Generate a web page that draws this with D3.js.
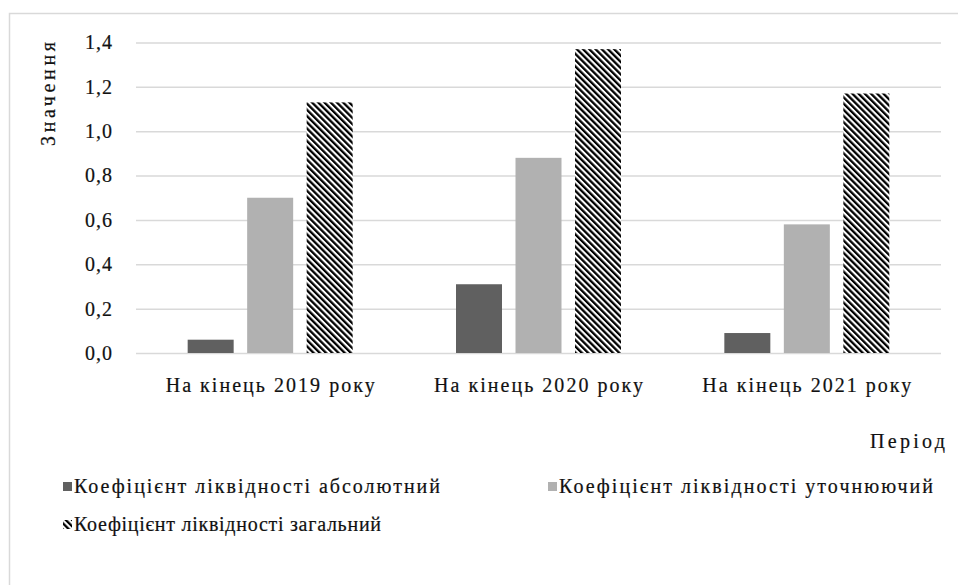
<!DOCTYPE html>
<html><head><meta charset="utf-8">
<script src="https://cdn.jsdelivr.net/npm/d3@7"></script>
<style>html,body{margin:0;padding:0;background:#fff;}</style>
</head>
<body><svg id="c" width="958" height="585" font-family="Liberation Serif"></svg>
<script>
const categories = ["На кінець 2019 року", "На кінець 2020 року", "На кінець 2021 року"];
const seriesNames = ["Коефіцієнт ліквідності абсолютний", "Коефіцієнт ліквідності уточнюючий", "Коефіцієнт ліквідності загальний"];
const absoluteValues = [0.06, 0.31, 0.09];
const quickValues = [0.70, 0.88, 0.58];
const generalValues = [1.13, 1.37, 1.17];
const yTicks = [0, 0.2, 0.4, 0.6, 0.8, 1.0, 1.2, 1.4];
const yTitle = "Значення";
const xTitle = "Період";

const series = [absoluteValues, quickValues, generalValues];
const fills = ["#606060", "#b1b1b1", "url(#hatch)"];
const FONT = "Liberation Serif";
const TXT = "#111";

const svg = d3.select("#c");
const defs = svg.append("defs");
const pat = defs.append("pattern").attr("id", "hatch").attr("patternUnits", "userSpaceOnUse")
  .attr("width", 4.4).attr("height", 10).attr("patternTransform", "rotate(-45)");
pat.append("rect").attr("width", 4.4).attr("height", 10).attr("fill", "#fff");
pat.append("rect").attr("width", 2.3).attr("height", 10).attr("fill", "#000");

// chart border
svg.append("rect").attr("x", 9.5).attr("y", 13.5).attr("width", 960).attr("height", 600)
  .attr("fill", "none").attr("stroke", "#d9d9d9").attr("stroke-width", 1.5);

const x0 = d3.scaleBand().domain(categories).range([136, 941]).paddingInner(0).paddingOuter(0);
const x1 = d3.scaleBand().domain([0, 1, 2]).range([-82.5, 82.5]).paddingInner(0.227).paddingOuter(0);
const y = d3.scaleLinear().domain([0, 1.4]).range([353, 42.5]);
const fmt = v => d3.format(".1f")(v).replace(".", ",");

function styleText(sel) {
  return sel.attr("fill", TXT).attr("stroke", TXT).attr("stroke-width", 0.2)
    .attr("font-family", FONT).attr("font-size", 20);
}

// gridlines + y tick labels
const yAxis = d3.axisLeft(y).tickValues(yTicks).tickFormat(fmt).tickSize(-(941 - 136)).tickPadding(23);
const gy = svg.append("g").attr("transform", "translate(136,0)").call(yAxis)
  .attr("font-family", FONT).attr("font-size", 20);
gy.select(".domain").remove();
gy.selectAll(".tick line").attr("stroke", "#d9d9d9").attr("stroke-width", 1.5);
styleText(gy.selectAll(".tick text")).attr("letter-spacing", 1);

// bars
const groups = svg.append("g").selectAll("g").data(categories).join("g")
  .attr("transform", d => `translate(${x0(d) + x0.bandwidth() / 2},0)`);
groups.selectAll("rect").data((d, i) => series.map((s, k) => ({k, v: s[i]}))).join("rect")
  .attr("x", d => x1(d.k)).attr("width", x1.bandwidth())
  .attr("y", d => y(d.v)).attr("height", d => y(0) - y(d.v))
  .attr("fill", d => fills[d.k]);

// category axis labels
const xAxis = d3.axisBottom(x0).tickSize(0);
const gx = svg.append("g").attr("transform", "translate(0,353)").call(xAxis)
  .attr("font-family", FONT).attr("font-size", 20);
gx.select(".domain").remove();
styleText(gx.selectAll(".tick text"))
  .attr("y", 39).attr("dy", 0).attr("textLength", 209).attr("lengthAdjust", "spacing");

// axis titles
styleText(svg.append("text")).attr("transform", "translate(55,94) rotate(-90)").attr("text-anchor", "middle")
  .attr("textLength", 104).attr("lengthAdjust", "spacing").text(yTitle);
styleText(svg.append("text")).attr("x", 870).attr("y", 448)
  .attr("textLength", 75).attr("lengthAdjust", "spacing").text(xTitle);

// legend
const legendPos = [[63, 487], [548, 487], [63, 525]];
const legendLen = [366, 374, 307];
const lg = svg.append("g").selectAll("g").data(seriesNames).join("g")
  .attr("transform", (d, i) => `translate(${legendPos[i][0]},${legendPos[i][1]})`);
lg.append("rect").attr("x", 0).attr("y", -5).attr("width", 9).attr("height", 9)
  .attr("fill", (d, i) => fills[i]);
styleText(lg.append("text")).attr("x", 11).attr("y", 6)
  .attr("textLength", (d, i) => legendLen[i]).attr("lengthAdjust", "spacing").text(d => d);
</script></body></html>
